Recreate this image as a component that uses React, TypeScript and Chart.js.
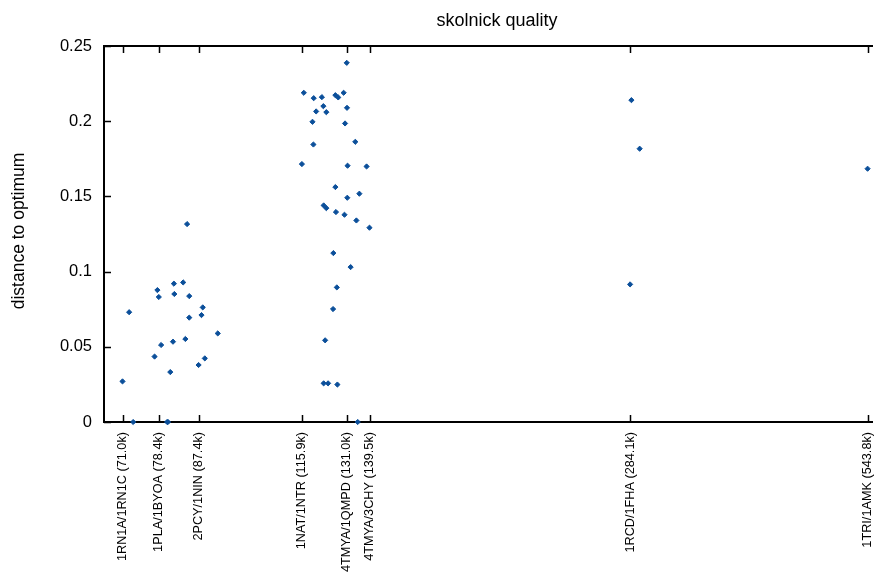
import React, { useEffect, useRef } from "react";
import { Chart, registerables } from "chart.js";

Chart.register(...registerables);

const chartTitle = "skolnick quality";
const yTitle = "distance to optimum";

const xTickValues = [71.0, 78.4, 87.4, 115.9, 131.0, 139.5, 284.1, 543.8];
const xTickLabels = [
  "1RN1A/1RN1C (71.0k)",
  "1PLA/1BYOA (78.4k)",
  "2PCY/1NIN (87.4k)",
  "1NAT/1NTR (115.9k)",
  "4TMYA/1QMPD (131.0k)",
  "4TMYA/3CHY (139.5k)",
  "1RCD/1FHA (284.1k)",
  "1TRI/1AMK (543.8k)",
];
const yTickValues = [0, 0.05, 0.1, 0.15, 0.2, 0.25];
const yTickLabels = ["0", "0.05", "0.1", "0.15", "0.2", "0.25"];

// x: size (k), y: distance to optimum
const sizeK = [
  71.0, 72.3, 73.1, 77.5, 78.1, 78.4, 78.9, 80.2, 80.4, 80.9, 81.5, 81.7, 81.8,
  83.8, 84.3, 85.2, 85.2, 87.4, 88.1, 88.4, 88.9, 92.1, 84.7,
  131.0, 116.5, 119.7, 122.4, 127.0, 128.0, 129.9, 122.9, 131.1, 120.5, 123.9,
  119.3, 130.4, 119.6, 134.1, 115.9, 131.3, 138.3, 127.0, 131.2, 135.6, 123.0,
  123.9, 127.2, 130.2, 134.5, 139.4, 126.3, 132.4, 127.5, 126.2, 123.5, 123.0,
  124.5, 127.7, 135.0,
  285.1, 291.6, 284.1, 543.5,
];
const distance = [
  0.027, 0.073, 0.0, 0.0435, 0.0877, 0.0831, 0.0512, 0.0, 0.0, 0.0332, 0.0534,
  0.092, 0.0851, 0.0928, 0.0552, 0.0837, 0.0694, 0.0379, 0.0711, 0.0762, 0.0423,
  0.0589, 0.1316,
  0.2388, 0.2189, 0.2153, 0.216, 0.2173, 0.2158, 0.2189, 0.21, 0.2089, 0.2065,
  0.206, 0.1996, 0.1985, 0.1845, 0.1863, 0.1715, 0.1704, 0.1699, 0.1562, 0.1491,
  0.1518, 0.144, 0.1422, 0.1396, 0.1378, 0.134, 0.1292, 0.1123, 0.103, 0.0895,
  0.0751, 0.0543, 0.0257, 0.0257, 0.0249, 0.0,
  0.214, 0.1817, 0.0915, 0.1684,
];

const FONT = "'Liberation Sans', Arial, Helvetica, sans-serif";

const framePlugin = {
  id: "frame",
  beforeDatasetsDraw(chart: any) {
    const { ctx, chartArea, scales } = chart;
    const { left, right, top, bottom } = chartArea;
    ctx.save();
    ctx.strokeStyle = "#000";
    ctx.lineWidth = 2;
    ctx.beginPath();
    ctx.moveTo(left, top);
    ctx.lineTo(right, top);
    ctx.moveTo(left, top - 1);
    ctx.lineTo(left, bottom + 1);
    ctx.moveTo(left, bottom);
    ctx.lineTo(right, bottom);
    ctx.stroke();
    ctx.lineWidth = 1.5;
    ctx.beginPath();
    const tl = 7;
    xTickValues.forEach((v) => {
      const px = Math.round(scales.x.getPixelForValue(v)) + 0.5;
      ctx.moveTo(px, bottom);
      ctx.lineTo(px, bottom - tl);
      ctx.moveTo(px, top);
      ctx.lineTo(px, top + tl);
    });
    yTickValues.forEach((v) => {
      const py = Math.round(scales.y.getPixelForValue(v)) + 0.5;
      ctx.moveTo(left, py);
      ctx.lineTo(left + tl, py);
    });
    ctx.stroke();
    ctx.restore();
  },
  afterDraw(chart: any) {
    const { ctx } = chart;
    ctx.save();
    ctx.fillStyle = "#000";
    ctx.textAlign = "center";
    ctx.textBaseline = "middle";
    ctx.font = `18px ${FONT}`;
    ctx.fillText(chartTitle, 497, 21);
    ctx.translate(19, 231);
    ctx.rotate(-Math.PI / 2);
    ctx.font = `17.5px ${FONT}`;
    ctx.fillText(yTitle, 0, 0);
    ctx.restore();
  },
};

export default function App() {
  const ref = useRef<HTMLCanvasElement | null>(null);
  useEffect(() => {
    if (!ref.current) return;
    const chart = new Chart(ref.current, {
      type: "scatter",
      data: {
        datasets: [
          {
            data: sizeK.map((x, i) => ({ x, y: distance[i] })),
            pointStyle: "rectRot",
            radius: 2.6,
            backgroundColor: "#0b4f9a",
            borderColor: "#0b4f9a",
            borderWidth: 1,
            clip: false as any,
          },
        ],
      },
      options: {
        animation: false,
        responsive: true,
        maintainAspectRatio: false,
        layout: { padding: { top: 46, left: 0, right: 0, bottom: 0 } },
        plugins: {
          legend: { display: false },
          title: { display: false },
          tooltip: { enabled: false },
        },
        scales: {
          x: {
            type: "logarithmic",
            min: 67.5,
            max: 551.6,
            grid: { display: false, drawTicks: false },
            border: { display: false },
            afterBuildTicks: (s: any) => {
              s.ticks = xTickValues.map((v) => ({ value: v }));
            },
            afterFit: (s: any) => {
              s.height = 152;
              s.paddingLeft = 0;
              s.paddingRight = 0;
            },
            ticks: {
              autoSkip: false,
              minRotation: 90,
              maxRotation: 90,
              padding: 10,
              color: "#000",
              font: { family: FONT, size: 12.7 },
              callback: (_v: any, i: number) => xTickLabels[i],
            },
          },
          y: {
            type: "linear",
            min: 0,
            max: 0.25,
            grid: { display: false, drawTicks: false },
            border: { display: false },
            afterBuildTicks: (s: any) => {
              s.ticks = yTickValues.map((v) => ({ value: v }));
            },
            afterFit: (s: any) => {
              s.width = 104;
            },
            ticks: {
              padding: 12,
              color: "#000",
              font: { family: FONT, size: 16.5 },
              callback: (_v: any, i: number) => yTickLabels[i],
            },
          },
        },
      },
      plugins: [framePlugin],
    });
    return () => chart.destroy();
  }, []);
  return (
    <div style={{ position: "absolute", left: 0, top: 0, width: 878, height: 574, background: "#fff" }}>
      <canvas ref={ref} />
    </div>
  );
}
